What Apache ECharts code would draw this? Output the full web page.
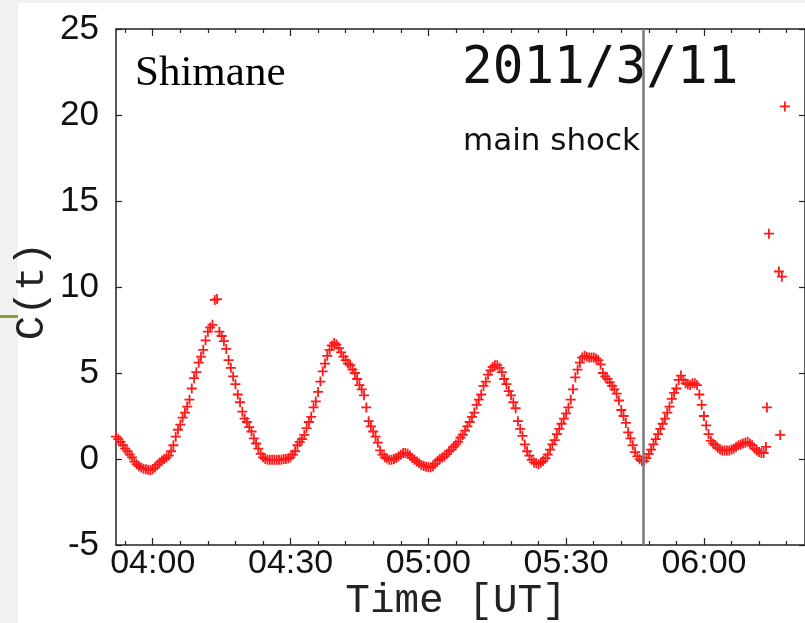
<!DOCTYPE html>
<html>
<head>
<meta charset="utf-8">
<script src="https://cdn.jsdelivr.net/npm/echarts@6/dist/echarts.min.js"></script>
<style>
  html, body { margin: 0; padding: 0; background: #ffffff; }
  #chart { width: 805px; height: 623px; }
</style>
</head>
<body>
<div id="chart"></div>
<script>
// Correlation c(t) at Shimane, sampled every 30 s from 03:52 UT on 2011/3/11
const sampleStart = '03:52:00';
const sampleStepSec = 30;
const cValues = [
  1.3, 1.15, 1.0, 0.8, 0.6, 0.45, 0.25, 0.1, -0.15, -0.3,
  -0.42, -0.5, -0.56, -0.6, -0.62, -0.64, -0.6, -0.5, -0.35, -0.2,
  -0.08, 0.0, 0.08, 0.2, 0.45, 0.8, 1.3, 1.7, 2.0, 2.4,
  2.7, 3.05, 3.45, 4.1, 4.7, 5.05, 5.6, 5.95, 6.35, 6.9,
  7.4, 7.65, 7.8, 9.25, 9.3, 7.4, 7.15, 6.85, 6.4, 5.75,
  5.3, 4.8, 4.35, 3.75, 3.3, 2.75, 2.35, 2.15, 1.85, 1.6,
  1.2, 0.9, 0.6, 0.3, 0.1, 0.0, -0.05, -0.05, -0.05, -0.05,
  -0.05, -0.05, -0.05, 0.0, 0.0, 0.05, 0.1, 0.25, 0.45, 0.8,
  1.0, 1.15, 1.4, 1.8, 2.15, 2.45, 3.0, 3.35, 3.9, 4.5,
  5.1, 5.55, 6.0, 6.35, 6.6, 6.75, 6.65, 6.45, 6.2, 5.95,
  5.75, 5.55, 5.45, 5.2, 5.0, 4.65, 4.3, 4.05, 3.7, 3.0,
  2.2, 1.9, 1.6, 1.3, 0.95, 0.5, 0.25, 0.1, 0.05, -0.05,
  -0.05, 0.0, 0.06, 0.15, 0.25, 0.35, 0.35, 0.3, 0.2, 0.06,
  -0.05, -0.15, -0.25, -0.35, -0.4, -0.45, -0.48, -0.48, -0.42, -0.28,
  -0.1, 0.0, 0.08, 0.15, 0.28, 0.45, 0.55, 0.7, 0.85, 1.0,
  1.25, 1.4, 1.65, 1.9, 2.15, 2.45, 2.7, 3.15, 3.45, 3.75,
  4.25, 4.5, 4.9, 5.15, 5.35, 5.45, 5.45, 5.3, 5.05, 4.65,
  4.35, 3.95, 3.7, 3.3, 2.95, 2.2, 1.75, 1.35, 0.85, 0.45,
  0.2, -0.05, -0.2, -0.25, -0.3, -0.22, -0.12, 0.05, 0.25, 0.55,
  0.85, 1.1, 1.45, 1.75, 2.05, 2.35, 2.65, 3.0, 3.45, 4.05,
  4.75, 5.2, 5.6, 5.9, 6.0, 5.95, 5.9, 5.9, 5.9, 5.85,
  5.75, 5.5, 5.0, 4.8, 4.65, 4.45, 4.25, 4.05, 3.8, 3.4,
  2.85, 2.5, 2.1, 1.55, 1.2, 0.8, 0.4, 0.15, -0.02, -0.12,
  -0.12, 0.05, 0.3, 0.55, 0.85, 1.15, 1.45, 1.75, 2.05, 2.35,
  2.7, 3.05, 3.5, 3.85, 4.1, 4.6, 4.85, 4.6, 4.4, 4.35,
  4.3, 4.4, 4.4, 4.3, 3.75, 3.15, 2.5, 1.95, 1.45, 1.05,
  0.9, 0.8, 0.65, 0.55, 0.5, 0.5, 0.5, 0.5, 0.55, 0.6,
  0.7, 0.8, 0.85, 0.9, 0.95, 1.0, 0.9, 0.8, 0.6, 0.5,
  0.4, 0.35, 0.35, 0.7
];
// Sparse samples after 06:13 UT
const tailTimes = ['06:13:43', '06:14:09', '06:16:19', '06:16:36', '06:16:58', '06:17:37'];
const tailValues = [3.0, 13.1, 10.9, 1.4, 10.6, 20.5];

const mainShockTime = '05:46:45';
const axisStart = '03:52:00';
const axisEnd = '06:22:00';
const xLabelTimes = ['04:00', '04:30', '05:00', '05:30', '06:00'];
const xMinorStepMin = 6;
const yMin = -5, yMax = 25, yStep = 5;

// time helpers: work in minutes of the day
function toMin(s) {
  const p = s.split(':').map(Number);
  return p[0] * 60 + p[1] + (p[2] || 0) / 60;
}
function fmt(m) {
  const h = Math.floor(m / 60 + 1e-6), mm = Math.round(m - h * 60);
  return String(h).padStart(2, '0') + ':' + String(mm).padStart(2, '0');
}

const xMin = toMin(axisStart), xMax = toMin(axisEnd);
const majorTicks = xLabelTimes.map(toMin);
const minorTicks = [];
for (let m = Math.ceil(xMin / xMinorStepMin) * xMinorStepMin; m < xMax; m += xMinorStepMin) {
  if (majorTicks.indexOf(m) < 0) minorTicks.push(m);
}

const t0 = toMin(sampleStart);
const mainData = cValues.map((v, i) => [t0 + i * sampleStepSec / 60, v]);
const tailData = tailTimes.map((t, i) => [toMin(t), tailValues[i]]);

// "+" marker drawn as a filled cross
const plus = 'path://M4.1,0H5.9V4.1H10V5.9H5.9V10H4.1V5.9H0V4.1H4.1Z';
const markerStyle = { color: '#ff1a1a', borderWidth: 0, opacity: 1 };
const axisColor = '#222';
const labelFont = 'Liberation Sans, Arial, sans-serif';

function xAxisDef(position, ticks, len, withLabels, showLine) {
  return {
    type: 'value', min: xMin, max: xMax, position: position,
    axisLine: { show: showLine, onZero: false, lineStyle: { color: axisColor, width: 1.5 } },
    axisTick: { show: true, inside: true, length: len, customValues: ticks,
      lineStyle: { color: axisColor, width: 1.2 } },
    axisLabel: withLabels ? {
      show: true, customValues: ticks, formatter: fmt, margin: 2,
      fontSize: 34, fontFamily: labelFont, color: '#111'
    } : { show: false },
    splitLine: { show: false }
  };
}

const chart = echarts.init(document.getElementById('chart'), null, { renderer: 'canvas' });
chart.setOption({
  animation: false,
  backgroundColor: '#ffffff',
  grid: { left: 116, right: -3, top: 29, bottom: 78, containLabel: false },
  xAxis: [
    xAxisDef('bottom', majorTicks, 7, true, true),
    xAxisDef('bottom', minorTicks, 4, false, false),
    xAxisDef('top', majorTicks, 7, false, true),
    xAxisDef('top', minorTicks, 4, false, false)
  ],
  yAxis: [
    {
      type: 'value', min: yMin, max: yMax, interval: yStep, position: 'left',
      axisLine: { show: true, onZero: false, lineStyle: { color: axisColor, width: 1.5 } },
      axisTick: { show: true, inside: true, length: 6, lineStyle: { color: axisColor, width: 1.2 } },
      axisLabel: { show: true, margin: 17, fontSize: 35, fontFamily: labelFont, color: '#111',
        padding: [0, 0, 14, 0] },
      splitLine: { show: false }
    },
    {
      type: 'value', min: yMin, max: yMax, interval: yStep, position: 'right',
      axisLine: { show: true, onZero: false, lineStyle: { color: axisColor, width: 1.5 } },
      axisTick: { show: true, inside: true, length: 6, lineStyle: { color: axisColor, width: 1.2 } },
      axisLabel: { show: false },
      splitLine: { show: false }
    }
  ],
  series: [
    {
      type: 'scatter', xAxisIndex: 0, yAxisIndex: 0,
      symbol: plus, symbolSize: 10, large: false,
      itemStyle: markerStyle,
      emphasis: { disabled: true },
      data: mainData,
      markLine: {
        silent: true, symbol: 'none',
        label: { show: false },
        lineStyle: { color: '#7a7a7a', width: 2.5, type: 'solid' },
        data: [{ xAxis: toMin(mainShockTime) }]
      }
    },
    {
      type: 'scatter', xAxisIndex: 0, yAxisIndex: 0,
      symbol: plus, symbolSize: 10,
      itemStyle: markerStyle,
      emphasis: { disabled: true },
      data: tailData
    }
  ],
  graphic: [
    { type: 'rect', left: 0, top: 0, shape: { width: 18, height: 623 }, style: { fill: '#f1f1ef' }, z: -10 },
    { type: 'rect', left: 0, top: 0, shape: { width: 805, height: 3 }, style: { fill: '#f1f1ef' }, z: -10 },
    { type: 'rect', left: 0, top: 315, shape: { width: 18, height: 3 }, style: { fill: '#8c9b3c' }, z: -9 },
    { type: 'text', x: 135, y: 74, style: { text: 'Shimane', font: '43px "Liberation Serif", serif',
        fill: '#000', align: 'left', verticalAlign: 'middle' } },
    { type: 'text', x: 462, y: 70, style: { text: '2011/3/11', font: '51px "DejaVu Sans Mono", monospace',
        fill: '#111', align: 'left', verticalAlign: 'middle' } },
    { type: 'text', x: 463, y: 142, style: { text: 'main shock', font: '31px "DejaVu Sans", sans-serif',
        fill: '#111', align: 'left', verticalAlign: 'middle' } },
    { type: 'text', x: 456, y: 601, style: { text: 'Time [UT]', font: '41px "Liberation Mono", monospace',
        fill: '#222', align: 'center', verticalAlign: 'middle' } },
    { type: 'text', x: 32, y: 291, rotation: Math.PI / 2, style: { text: 'C(t)',
        font: '41px "Liberation Mono", monospace', fill: '#222', align: 'center', verticalAlign: 'middle' } }
  ]
});
</script>
</body>
</html>
